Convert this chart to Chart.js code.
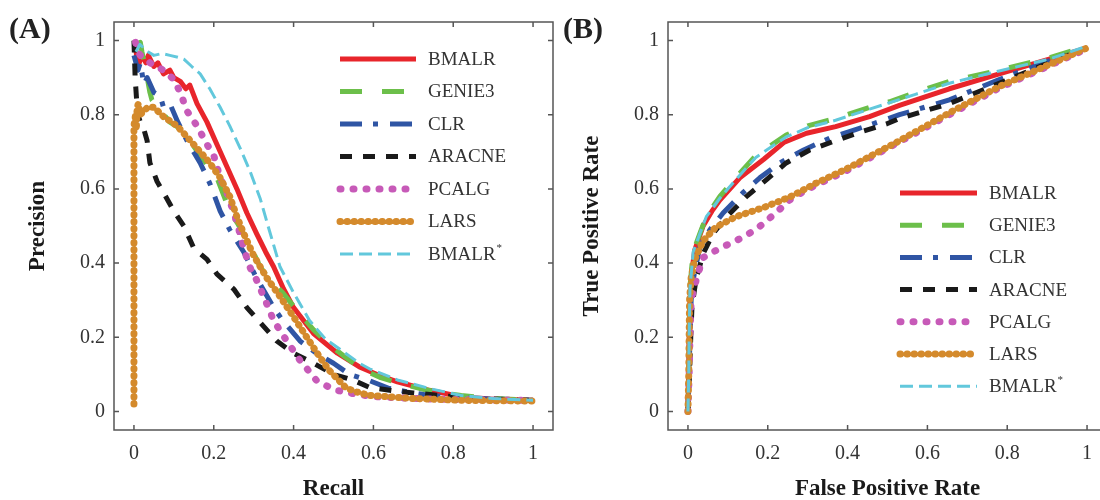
<!DOCTYPE html>
<html>
<head>
<meta charset="utf-8">
<script src="https://cdn.jsdelivr.net/npm/chart.js@4.4.1/dist/chart.umd.min.js"></script>
<style>
  html, body { margin: 0; padding: 0; background: #fff; overflow: hidden; width: 1100px; height: 500px; }
  .panel { position: absolute; top: 0; width: 560px; height: 500px; }
  #panelA { left: 0; }
  #panelB { left: 554px; }
</style>
</head>
<body>
<div class="panel" id="panelA"><canvas id="prChart" width="560" height="500"></canvas></div>
<div class="panel" id="panelB"><canvas id="rocChart" width="560" height="500"></canvas></div>
<script>
const methods = ['BMALR', 'GENIE3', 'CLR', 'ARACNE', 'PCALG', 'LARS', 'BMALR*'];
const tickVals = [0, 0.2, 0.4, 0.6, 0.8, 1];

// (A) precision-recall, [recall, precision]
const prBMALR = [[0.003,0.99],[0.01,0.93],[0.02,0.96],[0.03,0.94],[0.036,0.96],[0.05,0.93],[0.06,0.94],[0.074,0.91],[0.09,0.92],[0.1,0.9],[0.116,0.89],[0.13,0.87],[0.14,0.88],[0.158,0.83],[0.183,0.78],[0.208,0.72],[0.233,0.66],[0.258,0.6],[0.283,0.535],[0.307,0.48],[0.33,0.43],[0.35,0.39],[0.375,0.33],[0.4,0.28],[0.45,0.21],[0.51,0.157],[0.565,0.12],[0.62,0.095],[0.66,0.08],[0.74,0.057],[0.82,0.04],[0.9,0.033],[1,0.03]];
const prGENIE3 = [[0.005,0.99],[0.016,0.995],[0.02,0.97],[0.03,0.92],[0.04,0.86],[0.045,0.84],[0.06,0.82],[0.09,0.78],[0.12,0.76],[0.14,0.73],[0.166,0.69],[0.208,0.63],[0.24,0.54],[0.258,0.51],[0.29,0.45],[0.316,0.39],[0.345,0.35],[0.373,0.32],[0.41,0.27],[0.45,0.22],[0.49,0.18],[0.53,0.146],[0.57,0.115],[0.616,0.092],[0.66,0.078],[0.716,0.062],[0.77,0.05],[0.82,0.043],[0.9,0.035],[1,0.03]];
const prCLR = [[0,0.96],[0.01,0.92],[0.016,0.94],[0.025,0.88],[0.033,0.9],[0.05,0.86],[0.066,0.85],[0.074,0.82],[0.09,0.83],[0.11,0.78],[0.133,0.73],[0.166,0.67],[0.19,0.615],[0.216,0.54],[0.24,0.49],[0.275,0.43],[0.307,0.36],[0.35,0.28],[0.373,0.245],[0.416,0.19],[0.457,0.157],[0.5,0.13],[0.54,0.1],[0.59,0.083],[0.64,0.062],[0.7,0.05],[0.74,0.043],[0.85,0.035],[1,0.03]];
const prARACNE = [[0,1],[0.003,0.9],[0.006,0.85],[0.01,0.8],[0.016,0.78],[0.025,0.76],[0.033,0.73],[0.04,0.67],[0.058,0.62],[0.074,0.59],[0.1,0.54],[0.125,0.5],[0.15,0.44],[0.183,0.41],[0.208,0.37],[0.25,0.33],[0.283,0.28],[0.316,0.24],[0.358,0.19],[0.4,0.157],[0.45,0.13],[0.5,0.1],[0.55,0.084],[0.59,0.065],[0.65,0.056],[0.7,0.05],[0.765,0.043],[0.85,0.035],[1,0.03]];
const prPCALG = [[0.004,0.995],[0.01,0.97],[0.016,0.96],[0.04,0.94],[0.074,0.92],[0.1,0.895],[0.116,0.86],[0.133,0.81],[0.158,0.77],[0.183,0.72],[0.2,0.69],[0.216,0.63],[0.233,0.59],[0.258,0.51],[0.275,0.44],[0.29,0.39],[0.307,0.355],[0.325,0.31],[0.35,0.245],[0.383,0.19],[0.416,0.138],[0.457,0.084],[0.49,0.065],[0.508,0.057],[0.55,0.048],[0.6,0.04],[0.7,0.035],[0.8,0.032],[1,0.03]];
const prLARS = [[0,0.02],[0,0.3],[0,0.6],[0,0.77],[0.004,0.8],[0.006,0.76],[0.008,0.82],[0.011,0.83],[0.016,0.8],[0.024,0.81],[0.035,0.82],[0.05,0.82],[0.074,0.795],[0.108,0.77],[0.133,0.74],[0.166,0.7],[0.19,0.67],[0.216,0.63],[0.24,0.58],[0.258,0.525],[0.275,0.48],[0.3,0.42],[0.333,0.36],[0.366,0.31],[0.4,0.255],[0.433,0.2],[0.466,0.146],[0.49,0.11],[0.508,0.09],[0.53,0.065],[0.55,0.055],[0.59,0.043],[0.7,0.035],[0.82,0.03],[1,0.028]];
const prBMALRstar = [[0.005,0.97],[0.015,0.99],[0.024,0.98],[0.035,0.97],[0.05,0.96],[0.07,0.965],[0.09,0.96],[0.11,0.955],[0.125,0.95],[0.145,0.93],[0.166,0.91],[0.19,0.87],[0.216,0.82],[0.24,0.77],[0.266,0.71],[0.29,0.65],[0.316,0.575],[0.336,0.5],[0.366,0.39],[0.4,0.32],[0.44,0.245],[0.48,0.195],[0.53,0.157],[0.565,0.13],[0.59,0.115],[0.66,0.085],[0.74,0.062],[0.82,0.043],[0.9,0.035],[1,0.03]];

// (B) ROC, [false positive rate, true positive rate]
const rocBMALR = [[0,0],[0.002,0.1],[0.003,0.2],[0.005,0.3],[0.01,0.38],[0.017,0.435],[0.038,0.5],[0.06,0.54],[0.08,0.57],[0.13,0.63],[0.19,0.68],[0.24,0.725],[0.297,0.75],[0.37,0.768],[0.455,0.795],[0.53,0.825],[0.655,0.87],[0.78,0.91],[0.905,0.95],[1,0.98]];
const rocGENIE3 = [[0,0],[0.002,0.1],[0.003,0.2],[0.005,0.335],[0.013,0.43],[0.03,0.48],[0.046,0.525],[0.08,0.58],[0.12,0.63],[0.17,0.69],[0.205,0.715],[0.246,0.745],[0.3,0.77],[0.37,0.79],[0.455,0.82],[0.505,0.835],[0.57,0.86],[0.655,0.89],[0.78,0.92],[0.905,0.953],[1,0.985]];
const rocCLR = [[0,0],[0.003,0.1],[0.005,0.2],[0.008,0.3],[0.013,0.355],[0.03,0.445],[0.055,0.49],[0.088,0.535],[0.138,0.59],[0.18,0.63],[0.23,0.67],[0.29,0.705],[0.355,0.737],[0.42,0.76],[0.49,0.785],[0.53,0.8],[0.655,0.84],[0.78,0.895],[0.905,0.945],[1,0.98]];
const rocARACNE = [[0,0],[0.004,0.1],[0.007,0.2],[0.01,0.28],[0.02,0.355],[0.038,0.425],[0.063,0.48],[0.097,0.525],[0.147,0.58],[0.197,0.625],[0.246,0.67],[0.305,0.705],[0.37,0.73],[0.437,0.755],[0.497,0.775],[0.53,0.79],[0.655,0.83],[0.78,0.885],[0.905,0.94],[1,0.98]];
const rocPCALG = [[0,0],[0.003,0.1],[0.005,0.2],[0.008,0.3],[0.022,0.36],[0.038,0.415],[0.08,0.44],[0.12,0.46],[0.17,0.49],[0.22,0.535],[0.26,0.575],[0.32,0.61],[0.39,0.645],[0.455,0.683],[0.53,0.727],[0.655,0.8],[0.78,0.872],[0.905,0.932],[1,0.978]];
const rocLARS = [[0,0],[0.002,0.1],[0.003,0.2],[0.004,0.3],[0.008,0.36],[0.017,0.41],[0.038,0.46],[0.07,0.497],[0.12,0.525],[0.19,0.55],[0.255,0.578],[0.32,0.615],[0.39,0.65],[0.455,0.687],[0.53,0.73],[0.655,0.805],[0.78,0.876],[0.905,0.935],[1,0.98]];
const rocBMALRstar = [[0,0],[0.002,0.1],[0.003,0.2],[0.005,0.33],[0.013,0.43],[0.03,0.48],[0.046,0.525],[0.08,0.575],[0.12,0.625],[0.17,0.685],[0.246,0.74],[0.3,0.765],[0.37,0.785],[0.455,0.815],[0.57,0.855],[0.655,0.885],[0.78,0.918],[0.905,0.95],[1,0.985]];

const SERIF = '"Liberation Serif", "DejaVu Serif", serif';

// line look of each method (same in both panels)
const looks = [
  { color: '#e8252b', width: 5, dash: [], cap: 'butt' },
  { color: '#6cbf4a', width: 5, dash: [22, 20], cap: 'butt' },
  { color: '#2f55a4', width: 5, dash: [22, 11, 5, 12], cap: 'butt' },
  { color: '#1a1a1a', width: 5, dash: [12, 11], cap: 'butt' },
  { color: '#c75ab8', width: 7, dash: [1, 12], cap: 'round' },
  { color: '#d48a2c', width: 7, dash: [0.5, 6.5], cap: 'round' },
  { color: '#62c8dc', width: 3, dash: [13, 6], cap: 'butt' }
];

function makeDatasets(seriesList) {
  return seriesList.map((pts, i) => ({
    label: methods[i],
    data: pts.map(p => ({ x: p[0], y: p[1] })),
    borderColor: looks[i].color,
    borderWidth: looks[i].width,
    borderDash: looks[i].dash,
    borderCapStyle: looks[i].cap,
    borderJoinStyle: 'round',
    pointRadius: 0,
    fill: false,
    tension: 0,
    order: methods.length - i   // later methods drawn on top, as in the original plot
  }));
}

// box with inward ticks, like the original figure
const framePlugin = {
  id: 'frame',
  afterDatasetsDraw(chart) {
    const { ctx, chartArea: a, scales: { x, y } } = chart;
    ctx.save();
    ctx.strokeStyle = '#555';
    ctx.lineWidth = 1.5;
    ctx.strokeRect(a.left, a.top, a.right - a.left, a.bottom - a.top);
    ctx.beginPath();
    x.ticks.forEach(t => {
      const px = x.getPixelForValue(t.value);
      ctx.moveTo(px, a.bottom); ctx.lineTo(px, a.bottom - 5);
      ctx.moveTo(px, a.top); ctx.lineTo(px, a.top + 5);
    });
    y.ticks.forEach(t => {
      const py = y.getPixelForValue(t.value);
      ctx.moveTo(a.left, py); ctx.lineTo(a.left + 5, py);
      ctx.moveTo(a.right, py); ctx.lineTo(a.right - 5, py);
    });
    ctx.stroke();
    ctx.restore();
  }
};

const legendPlugin = {
  id: 'lineLegend',
  afterDraw(chart, args, opts) {
    const { ctx, chartArea: a } = chart;
    ctx.save();
    chart.data.datasets.forEach((ds, i) => {
      const yy = a.top + opts.top + i * opts.step;
      ctx.beginPath();
      ctx.strokeStyle = ds.borderColor;
      ctx.lineWidth = ds.borderWidth;
      ctx.setLineDash(ds.borderDash);
      ctx.lineCap = ds.borderCapStyle;
      ctx.moveTo(a.left + opts.x1, yy);
      ctx.lineTo(a.left + opts.x2, yy);
      ctx.stroke();
      ctx.setLineDash([]);
      ctx.fillStyle = '#333';
      ctx.font = '19px ' + SERIF;
      ctx.textBaseline = 'middle';
      ctx.textAlign = 'left';
      const name = ds.label.replace('*', '');
      ctx.fillText(name, a.left + opts.tx, yy + 1);
      if (ds.label.endsWith('*')) {
        const w = ctx.measureText(name).width;
        ctx.font = '11px ' + SERIF;
        ctx.fillText('*', a.left + opts.tx + w + 1, yy - 6);
      }
    });
    // panel letter
    ctx.fillStyle = '#222';
    ctx.font = 'bold 30px ' + SERIF;
    ctx.textBaseline = 'alphabetic';
    ctx.fillText(opts.panel, 9, 38);
    ctx.restore();
  }
};

function makeChart(id, seriesList, xTitle, yTitle, legendOpts) {
  const axisFont = { family: SERIF, size: 20 };
  const titleFont = { family: SERIF, size: 23, weight: 'bold' };
  return new Chart(document.getElementById(id), {
    type: 'line',
    data: { datasets: makeDatasets(seriesList) },
    options: {
      responsive: false,
      animation: false,
      layout: { padding: { top: 22, right: 7, left: 0, bottom: 0 } },
      plugins: { legend: { display: false }, tooltip: { enabled: false }, lineLegend: legendOpts },
      scales: {
        x: {
          type: 'linear', min: -0.05, max: 1.05,
          afterBuildTicks: s => { s.ticks = tickVals.map(v => ({ value: v })); },
          afterFit: s => { s.height = 70; },
          grid: { display: false, drawTicks: false },
          border: { display: false },
          ticks: { font: axisFont, color: '#333', padding: 12, maxRotation: 0, callback: v => String(+v.toFixed(1)) },
          title: { display: true, text: xTitle, font: titleFont, color: '#1a1a1a', padding: { top: 0, bottom: -3 } }
        },
        y: {
          type: 'linear', min: -0.05, max: 1.05,
          afterBuildTicks: s => { s.ticks = tickVals.map(v => ({ value: v })); },
          afterFit: s => { s.width = 114; },
          grid: { display: false, drawTicks: false },
          border: { display: false },
          ticks: { font: axisFont, color: '#333', padding: 9, callback: v => String(+v.toFixed(1)) },
          title: { display: true, text: yTitle, font: titleFont, color: '#1a1a1a', padding: { top: 24, bottom: 0 } }
        }
      }
    },
    plugins: [framePlugin, legendPlugin]
  });
}

makeChart('prChart',
  [prBMALR, prGENIE3, prCLR, prARACNE, prPCALG, prLARS, prBMALRstar],
  'Recall', 'Precision',
  { panel: '(A)', x1: 226, x2: 302, tx: 314, top: 37, step: 32.5 });

makeChart('rocChart',
  [rocBMALR, rocGENIE3, rocCLR, rocARACNE, rocPCALG, rocLARS, rocBMALRstar],
  'False Positive Rate', 'True Positive Rate',
  { panel: '(B)', x1: 232, x2: 309, tx: 321, top: 171, step: 32.2 });
</script>
</body>
</html>
